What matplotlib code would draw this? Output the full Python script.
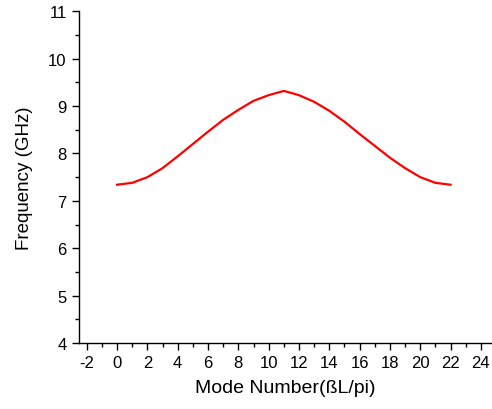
import matplotlib.pyplot as plt
import numpy as np
from matplotlib.ticker import MultipleLocator

plt.rcParams['font.family'] = ['Liberation Sans', 'DejaVu Sans']
plt.rcParams['axes.unicode_minus'] = False

mode_number = list(range(23))
frequency = [7.34, 7.38, 7.50, 7.69, 7.94, 8.20, 8.46, 8.71, 8.92, 9.11,
             9.23, 9.32, 9.23, 9.09, 8.90, 8.67, 8.41, 8.16, 7.91, 7.69,
             7.50, 7.38, 7.34]


def main() -> None:
    fig = plt.figure(figsize=(4.92, 4.10), dpi=100)
    ax = fig.add_axes([0.161, 0.161, 0.838, 0.809])
    ax.plot(mode_number, frequency, color='#ff0000', lw=1.6)

    ax.set_xlim(-2.5, 24.7)
    ax.set_ylim(4, 11)
    ax.xaxis.set_major_locator(MultipleLocator(2))
    ax.xaxis.set_minor_locator(MultipleLocator(1))
    ax.yaxis.set_major_locator(MultipleLocator(1))
    ax.yaxis.set_minor_locator(MultipleLocator(0.5))

    for side in ('top', 'right'):
        ax.spines[side].set_visible(False)
    for side in ('left', 'bottom'):
        ax.spines[side].set_linewidth(1.0)
    ax.tick_params(which='major', direction='out', length=5, width=1,
                   labelsize=12, pad=4)
    ax.tick_params(which='minor', direction='out', length=3, width=1)

    ax.set_xlabel('Mode Number(ßL/pi)', fontsize=14, labelpad=6)
    ax.set_ylabel('Frequency (GHz)', fontsize=13.5, labelpad=11)

    fig.savefig('out.png', dpi=100)
    plt.close(fig)


if __name__ == '__main__':
    main()
